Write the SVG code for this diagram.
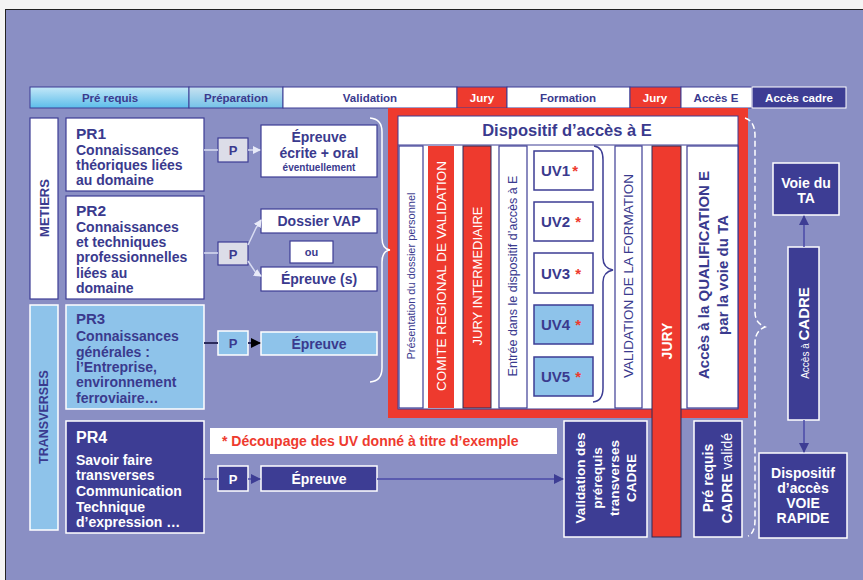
<svg xmlns="http://www.w3.org/2000/svg" width="863" height="580" viewBox="0 0 863 580">
<defs>
<style>
.t{font-family:"Liberation Sans",Arial,sans-serif;font-weight:bold;fill:#3a3a8e}
.n{font-weight:normal}
.w{fill:#fff}
.r{fill:#ee3a2e}
.wb{fill:#fff;stroke:#3d3d94;stroke-width:1.2}
.db{fill:#3d3d94;stroke:#fff;stroke-width:1.5}
.lb{fill:#8ec3ea;stroke:#fff;stroke-width:1.5}
.pb{fill:#dcdde8;stroke:#3d3d94;stroke-width:1.2}
.red{fill:#ee3a2e}
.cl{fill:none;stroke:#d8dcf2;stroke-width:1.5}
.cd{fill:none;stroke:#2a2a5a;stroke-width:2}
.cb{fill:none;stroke:#4a4aa8;stroke-width:1.5}
.bar{stroke:#3d3d94;stroke-width:1}
</style>
<linearGradient id="g1" x1="0" y1="0" x2="0" y2="1"><stop offset="0" stop-color="#c4e8f8"/><stop offset="1" stop-color="#5cbdea"/></linearGradient>
<linearGradient id="g2" x1="0" y1="0" x2="0" y2="1"><stop offset="0" stop-color="#c8e2f0"/><stop offset="1" stop-color="#74c2e8"/></linearGradient>
<marker id="mw" markerWidth="8" markerHeight="8" refX="7" refY="4" orient="auto" markerUnits="userSpaceOnUse"><path d="M0,0 L8,4 L0,8 z" fill="#e8eaf8"/></marker>
<marker id="mk" markerWidth="10" markerHeight="10" refX="9" refY="5" orient="auto" markerUnits="userSpaceOnUse"><path d="M0,0 L10,5 L0,10 z" fill="#000"/></marker>
<marker id="mb" markerWidth="10" markerHeight="10" refX="9" refY="5" orient="auto" markerUnits="userSpaceOnUse"><path d="M0,0 L10,5 L0,10 z" fill="#3d3d94"/></marker>
</defs>
<rect x="0" y="0" width="863" height="580" fill="#f4f4f4"/>
<rect x="5.5" y="9.5" width="870" height="580" fill="#8a8fc4" stroke="#222" stroke-width="1"/>

<g id="topbar">
<rect class="bar" x="30" y="87" width="159" height="21" fill="url(#g1)"/>
<rect class="bar" x="189" y="87" width="94" height="21" fill="url(#g2)"/>
<rect class="bar" x="283" y="87" width="174" height="21" fill="#fff"/>
<rect class="bar" x="457" y="87" width="50" height="21" fill="#ee3a2e"/>
<rect class="bar" x="507" y="87" width="123" height="21" fill="#fff"/>
<rect class="bar" x="630" y="87" width="51" height="21" fill="#ee3a2e"/>
<rect class="bar" x="681" y="87" width="71" height="21" fill="#fff"/>
<rect x="752" y="87" width="94" height="21" fill="#3d3d94" stroke="#fff" stroke-width="1"/>
<g class="t" font-size="11.5" text-anchor="middle">
<text x="110" y="101.5">Pré requis</text>
<text x="236" y="101.5">Préparation</text>
<text x="370" y="101.5">Validation</text>
<text x="482" y="101.5" class="w">Jury</text>
<text x="568" y="101.5">Formation</text>
<text x="655" y="101.5" class="w">Jury</text>
<text x="716" y="101.5">Accès  E</text>
<text x="799" y="101.5" class="w">Accès  cadre</text>
</g>
</g>

<g id="metiers">
<rect class="wb" x="30" y="118" width="28" height="181"/>
<text class="t" font-size="13" text-anchor="middle" transform="translate(44,208) rotate(-90)" y="4.5">METIERS</text>
</g>
<g id="transverses">
<rect class="lb" x="30" y="305" width="28" height="225"/>
<text class="t" font-size="12.5" text-anchor="middle" transform="translate(44,417) rotate(-90)" y="4.4">TRANSVERSES</text>
</g>

<g id="pr1">
<rect class="wb" x="66" y="118" width="138" height="73"/>
<text class="t" x="76" y="138.5" font-size="15.5">PR1</text>
<text class="t" x="76" y="155" font-size="14">Connaissances</text>
<text class="t" x="76" y="170" font-size="14">théoriques liées</text>
<text class="t" x="76" y="185" font-size="14">au domaine</text>
</g>
<g id="pr2">
<rect class="wb" x="66" y="196" width="138" height="103"/>
<text class="t" x="76" y="215.5" font-size="15.5">PR2</text>
<text class="t" x="76" y="232" font-size="14">Connaissances</text>
<text class="t" x="76" y="247" font-size="14">et techniques</text>
<text class="t" x="76" y="262" font-size="14">professionnelles</text>
<text class="t" x="76" y="278" font-size="14">liées au</text>
<text class="t" x="76" y="293" font-size="14">domaine</text>
</g>
<g id="pr3">
<rect class="lb" x="66" y="305" width="138" height="104"/>
<text class="t" x="76" y="324" font-size="15">PR3</text>
<text class="t" x="76" y="340.5" font-size="14">Connaissances</text>
<text class="t" x="76" y="357" font-size="14">générales :</text>
<text class="t" x="76" y="372" font-size="14">l’Entreprise,</text>
<text class="t" x="76" y="387" font-size="14">environnement</text>
<text class="t" x="76" y="403" font-size="14">ferroviaire…</text>
</g>
<g id="pr4">
<rect class="db" x="66" y="421" width="138" height="112"/>
<text class="t w" x="76" y="443" font-size="16">PR4</text>
<text class="t w" x="76" y="465" font-size="14">Savoir faire</text>
<text class="t w" x="76" y="480" font-size="14">transverses</text>
<text class="t w" x="76" y="496" font-size="14">Communication</text>
<text class="t w" x="76" y="512" font-size="14">Technique</text>
<text class="t w" x="76" y="527" font-size="14">d’expression …</text>
</g>

<g id="p1"><rect class="pb" x="218" y="138" width="30" height="24"/><text class="t" x="233" y="155" font-size="13" text-anchor="middle">P</text></g>
<g id="p2"><rect class="pb" x="218" y="242" width="30" height="23"/><text class="t" x="233" y="258.5" font-size="13" text-anchor="middle">P</text></g>
<g id="p3"><rect class="lb" x="218" y="331" width="30" height="24"/><text class="t" x="233" y="348" font-size="13" text-anchor="middle">P</text></g>
<g id="p4"><rect class="db" x="218" y="466" width="30" height="25"/><text class="t w" x="233" y="483.5" font-size="13" text-anchor="middle">P</text></g>

<g id="epreuve1">
<rect class="wb" x="261" y="125" width="116" height="52"/>
<text class="t" x="319" y="142" font-size="14" text-anchor="middle">Épreuve</text>
<text class="t" x="319" y="158" font-size="14" text-anchor="middle">écrite + oral</text>
<text class="t" x="319" y="171" font-size="10" text-anchor="middle">éventuellement</text>
</g>
<g id="dossiervap"><rect class="wb" x="261" y="209" width="116" height="24"/><text class="t" x="319" y="226" font-size="14" text-anchor="middle">Dossier VAP</text></g>
<g id="ou"><rect class="wb" x="290" y="241" width="43" height="22"/><text class="t" x="311.5" y="256" font-size="11" text-anchor="middle">ou</text></g>
<g id="epreuves"><rect class="wb" x="261" y="267" width="116" height="24"/><text class="t" x="319" y="284" font-size="14" text-anchor="middle">Épreuve (s)</text></g>
<g id="epreuve3"><rect class="lb" x="261" y="332" width="116" height="23"/><text class="t" x="319" y="348.5" font-size="14" text-anchor="middle">Épreuve</text></g>
<g id="epreuve4"><rect class="db" x="261" y="466" width="116" height="25"/><text class="t w" x="319" y="483.5" font-size="14" text-anchor="middle">Épreuve</text></g>

<g id="note"><rect x="210" y="428" width="347" height="26" fill="#fff"/><text class="t r" x="222" y="446" font-size="14">* Découpage des UV  donné à titre d’exemple</text></g>

<g id="dispositif">
<rect x="388" y="108" width="360" height="310" fill="#ee3a2e"/>
<rect x="398" y="116" width="340" height="293" fill="#fff" stroke="#3d3d94" stroke-width="1"/>
<line x1="398" y1="145" x2="738" y2="145" stroke="#3d3d94" stroke-width="1"/>
<text class="t" x="567" y="136" font-size="16.5" text-anchor="middle">Dispositif d’accès à E</text>
<rect class="wb" x="399" y="146" width="24" height="262"/>
<text class="t n" font-size="11" text-anchor="middle" transform="translate(411,276) rotate(-90)" y="3.9">Présentation du dossier personnel</text>
<rect x="428" y="146" width="26" height="262" fill="#ee3a2e"/>
<text class="t n w" font-size="13.5" text-anchor="middle" transform="translate(441,276) rotate(-90)" y="4.7">COMITE REGIONAL DE VALIDATION</text>
<rect x="463" y="146" width="28" height="262" fill="#ee3a2e" stroke="#2a2a5a" stroke-width="1"/>
<text class="t n w" font-size="13" text-anchor="middle" transform="translate(477,276) rotate(-90)" y="4.6">JURY INTERMEDIAIRE</text>
<rect class="wb" x="499" y="146" width="28" height="262"/>
<text class="t n" font-size="12.5" text-anchor="middle" transform="translate(513,276) rotate(-90)" y="4.4">Entrée dans le dispositif d’accès à E</text>
<rect class="wb" x="615" y="146" width="27" height="262"/>
<text class="t n" font-size="13.5" text-anchor="middle" transform="translate(628.5,276) rotate(-90)" y="4.7">VALIDATION DE LA FORMATION</text>
<rect class="wb" x="687" y="146" width="51" height="262"/>
<text class="t" font-size="15" text-anchor="middle" transform="translate(712,275) rotate(-90)"><tspan x="0" y="-3.5">Accès  à  la QUALIFICATION E</tspan><tspan x="0" y="15.5">par la voie du TA</tspan></text>
<path d="M594,146 Q603,147 603,160 L603,258 Q603,268 613,270 Q603,272 603,282 L603,388 Q603,401 593,402" fill="none" stroke="#3d3d94" stroke-width="1.5"/>
</g>

<g id="uv1"><rect x="534" y="151" width="59" height="39" fill="#fff" stroke="#3d3d94" stroke-width="1.5"/><text class="t" x="541" y="176" font-size="15">UV1<tspan class="r" dx="2">*</tspan></text></g>
<g id="uv2"><rect x="534" y="202" width="59" height="39" fill="#fff" stroke="#3d3d94" stroke-width="1.5"/><text class="t" x="541" y="227" font-size="15">UV2<tspan class="r" dx="5">*</tspan></text></g>
<g id="uv3"><rect x="534" y="253" width="59" height="40" fill="#fff" stroke="#3d3d94" stroke-width="1.5"/><text class="t" x="541" y="279" font-size="15">UV3<tspan class="r" dx="5">*</tspan></text></g>
<g id="uv4"><rect x="534" y="305" width="59" height="39" fill="#8ec3ea" stroke="#3d3d94" stroke-width="1.5"/><text class="t" x="541" y="330" font-size="15">UV4<tspan class="r" dx="5">*</tspan></text></g>
<g id="uv5"><rect x="534" y="357" width="59" height="39" fill="#8ec3ea" stroke="#3d3d94" stroke-width="1.5"/><text class="t" x="541" y="382" font-size="15">UV5<tspan class="r" dx="5">*</tspan></text></g>

<g id="jury">
<rect x="652" y="146" width="29" height="391" fill="#ee3a2e" stroke="#2a2a5a" stroke-width="1"/>
<text class="t w" font-size="14" text-anchor="middle" transform="translate(666.5,341) rotate(-90)" y="5">JURY</text>
</g>

<g id="validprereq">
<rect class="db" x="564" y="421" width="83" height="116"/>
<text class="t w" font-size="13.5" text-anchor="middle" transform="translate(605.5,478) rotate(-90)"><tspan x="0" y="-20.8">Validation des</tspan><tspan x="0" y="-3.8">prérequis</tspan><tspan x="0" y="13.2">transverses</tspan><tspan x="0" y="30.2">CADRE</tspan></text>
</g>
<g id="prereqcadre">
<rect class="db" x="694" y="421" width="48" height="116"/>
<text class="t w" font-size="14" text-anchor="middle" transform="translate(718,478) rotate(-90)"><tspan x="0" y="-4.6">Pré requis</tspan><tspan x="0" y="14.4">CADRE<tspan class="n"> validé</tspan></tspan></text>
</g>

<g id="voieta">
<rect class="db" x="773" y="163" width="66" height="52"/>
<text class="t w" x="806" y="188" font-size="14" text-anchor="middle">Voie du</text>
<text class="t w" x="806" y="203" font-size="14" text-anchor="middle">TA</text>
</g>
<g id="accescadre">
<rect class="db" x="788" y="247" width="31" height="173"/>
<text class="t w" text-anchor="middle" transform="translate(804,333) rotate(-90)" y="5.2"><tspan class="n" font-size="10">Accès à </tspan><tspan font-size="15">CADRE</tspan></text>
</g>
<g id="voierapide">
<rect class="db" x="759" y="453" width="88" height="85"/>
<text class="t w" x="803" y="478" font-size="14" text-anchor="middle">Dispositif</text>
<text class="t w" x="803" y="493" font-size="14" text-anchor="middle">d’accès</text>
<text class="t w" x="803" y="508" font-size="14" text-anchor="middle">VOIE</text>
<text class="t w" x="803" y="523" font-size="14" text-anchor="middle">RAPIDE</text>
</g>

<g id="connectors">
<path d="M370,118 Q382,119 382,132 L382,238 Q382,249 390,250 Q382,251 382,262 L382,368 Q382,381 370,382" fill="none" stroke="#fff" stroke-width="1.5"/>
<path d="M745,118 Q755,121 755,136 L755,312 Q755,323 765,327 Q755,331 755,343 L755,520 Q755,533 748,536" fill="none" stroke="#fff" stroke-width="1.5" stroke-dasharray="6,3"/>
<line class="cl" x1="204" y1="150" x2="218" y2="150"/>
<line class="cl" x1="248" y1="150" x2="260" y2="150" marker-end="url(#mw)"/>
<line class="cl" x1="204" y1="253" x2="218" y2="253"/>
<path class="cl" d="M248,245 L256,228 L261,220" marker-end="url(#mw)"/>
<path class="cl" d="M248,261 L256,273 L261,276" marker-end="url(#mw)"/>
<line class="cd" x1="204" y1="343" x2="218" y2="343"/>
<line class="cd" x1="248" y1="343" x2="260" y2="343" marker-end="url(#mk)"/>
<line class="cb" x1="204" y1="479" x2="218" y2="479"/>
<line class="cb" x1="248" y1="479" x2="260" y2="479" marker-end="url(#mb)"/>
<line class="cb" x1="377" y1="479" x2="563" y2="479" marker-end="url(#mb)"/>
<line class="cb" x1="804" y1="247" x2="804" y2="216" marker-end="url(#mb)"/>
<line class="cb" x1="804" y1="420" x2="804" y2="452" marker-end="url(#mb)"/>
</g>
</svg>
